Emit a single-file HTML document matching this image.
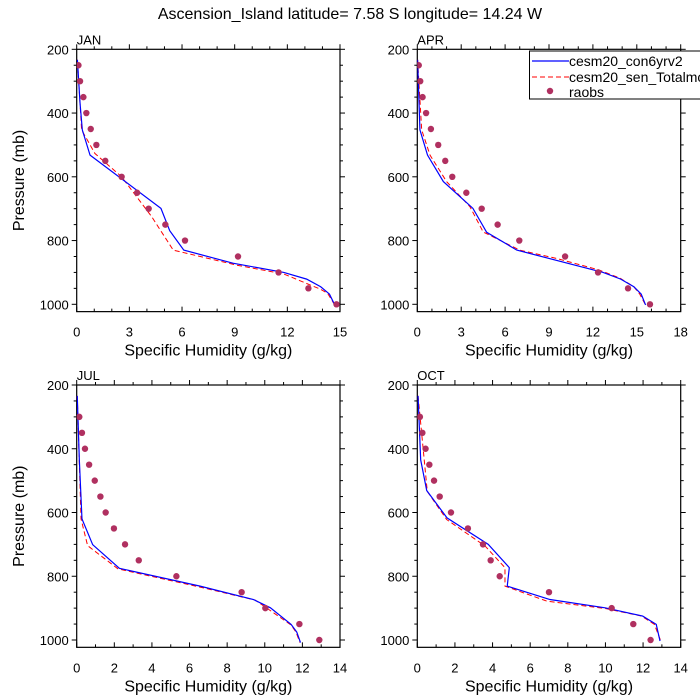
<!DOCTYPE html>
<html><head><meta charset="utf-8"><style>
body{margin:0;background:#fff;}
svg{display:block;font-family:"Liberation Sans",sans-serif;}
</style></head><body>
<svg id="chart" width="700" height="700" viewBox="0 0 700 700" xmlns="http://www.w3.org/2000/svg">
<rect width="700" height="700" fill="#fff"/>
<text x="350" y="19" text-anchor="middle" font-size="16">Ascension_Island  latitude= 7.58 S longitude= 14.24 W</text>
</svg>
<script>
const raobsLevels=[250,300,350,400,450,500,550,600,650,700,750,800,850,900,950,1000];
const janObs=[0.1,0.19,0.38,0.55,0.8,1.12,1.63,2.56,3.44,4.1,5.05,6.17,9.19,11.5,13.2,14.8];
const aprObs=[0.1,0.2,0.36,0.6,0.93,1.43,1.91,2.39,3.35,4.4,5.49,6.97,10.1,12.35,14.4,15.9];
const julObs=[null,0.14,0.28,0.44,0.66,0.96,1.26,1.54,1.98,2.57,3.3,5.3,8.77,10.03,11.84,12.9];
const octObs=[null,0.14,0.27,0.44,0.64,0.89,1.19,1.79,2.69,3.49,3.9,4.38,7.0,10.33,11.48,12.4];

const janConP=[233,369,453,532,699,769,830,871,900,921,945,968,1002];
const janConQ=[0.04,0.19,0.32,0.76,4.8,5.3,6.1,8.9,11.8,13.1,13.9,14.4,14.7];
const janSenP=[233,453,527,600,725,830,877,905,953,966,1002];
const janSenQ=[0.04,0.28,1.04,2.56,4.27,5.5,9.1,11.8,13.9,14.3,14.7];

const aprConP=[233,453,532,615,699,774,830,900,921,945,968,1002];
const aprConQ=[0.02,0.18,0.7,1.78,3.8,4.74,6.8,12.7,13.9,14.8,15.3,15.6];
const aprSenP=[233,453,532,615,694,773,830,856,892,918,945,968,1002];
const aprSenQ=[0.02,0.3,0.87,2.0,3.6,4.5,7.0,9.5,12.4,13.85,14.8,15.2,15.6];

const julConP=[234,435,620,701,775,831,873,899,951,975,1008];
const julConQ=[0.03,0.14,0.28,0.85,2.27,6.56,9.4,10.3,11.4,11.7,11.9];
const julSenP=[234,620,704,777,834,875,953,975,1008];
const julSenQ=[0.03,0.23,0.58,2.2,6.56,9.5,11.4,11.66,11.87];

const octConP=[234,435,531,617,700,773,831,873,899,925,951,1003];
const octConQ=[0.04,0.18,0.5,1.58,3.77,4.89,4.78,7.05,9.98,11.98,12.7,12.9];
const octSenP=[234,534,622,705,773,831,878,902,925,951,1003];
const octSenQ=[0.04,0.53,1.56,3.6,4.66,4.66,6.88,10.07,11.93,12.6,12.94];

const yTicks=[200,400,600,800,1000];
const NS="http://www.w3.org/2000/svg";
const svg=document.getElementById('chart');
function mk(tag,attrs,parent){const e=document.createElementNS(NS,tag);for(const k in attrs)e.setAttribute(k,attrs[k]);(parent||svg).appendChild(e);return e;}

const panels=[
 {name:'jan',label:'JAN',x0:76.7,x1:340,y0:49.3,xmax:15,xstep:3,minor:1,obs:janObs,cp:janConP,cq:janConQ,sp:janSenP,sq:janSenQ,ytitle:true},
 {name:'apr',label:'APR',x0:417.3,x1:680.7,y0:49.3,xmax:18,xstep:3,minor:1,obs:aprObs,cp:aprConP,cq:aprConQ,sp:aprSenP,sq:aprSenQ,ytitle:false},
 {name:'jul',label:'JUL',x0:76.7,x1:340,y0:385,xmax:14,xstep:2,minor:1,obs:julObs,cp:julConP,cq:julConQ,sp:julSenP,sq:julSenQ,ytitle:true},
 {name:'oct',label:'OCT',x0:417.3,x1:680.7,y0:385,xmax:14,xstep:2,minor:1,obs:octObs,cp:octConP,cq:octConQ,sp:octSenP,sq:octSenQ,ytitle:false}
];
const PPX=255/800, PMAX=1023;
panels.forEach(p=>{
 const g=mk('g',{});
 
 
 const xs=v=>p.x0+(v/p.xmax)*(p.x1-p.x0);
 const ys=v=>p.y0+(v-200)*PPX;
 const yb=ys(PMAX);
 const clipId='clip-'+p.name;
 const cp=mk('clipPath',{id:clipId},g);
 mk('rect',{x:p.x0,y:p.y0,width:p.x1-p.x0,height:yb-p.y0},cp);
 const frame=mk('rect',{x:p.x0,y:p.y0,width:p.x1-p.x0,height:yb-p.y0,fill:'none',stroke:'#000','stroke-width':1.2},g);
 
 
 for(let v=0;v<=p.xmax+1e-9;v+=p.minor){
  const major=Math.abs(v/p.xstep-Math.round(v/p.xstep))<1e-6;
  const L=major?5:3;const x=xs(v);
  mk('line',{x1:x,x2:x,y1:yb,y2:yb-L,stroke:'#000','stroke-width':1},g);
  mk('line',{x1:x,x2:x,y1:p.y0,y2:p.y0-L,stroke:'#000','stroke-width':1},g);
  if(major){const t=mk('text',{x:x,y:yb+25,'text-anchor':'middle','font-size':13},g);t.textContent=String(v);
   
   }
 }
 for(let v=200;v<=PMAX;v+=50){
  const major=v%200===0;const L=major?5:3;const y=ys(v);
  mk('line',{x1:p.x0,x2:p.x0-L,y1:y,y2:y,stroke:'#000','stroke-width':1},g);
  mk('line',{x1:p.x1,x2:p.x1+L,y1:y,y2:y,stroke:'#000','stroke-width':1},g);
 }
 yTicks.forEach(v=>{const t=mk('text',{x:p.x0-8,y:ys(v)+5,'text-anchor':'end','font-size':13},g);t.textContent=v;
  
  });
 const lab=mk('text',{x:p.x0,y:p.y0-5,'font-size':13},g);lab.textContent=p.label;
 
 
 const xt=mk('text',{x:(p.x0+p.x1)/2,y:yb+44,'text-anchor':'middle','font-size':16},g);xt.textContent='Specific Humidity (g/kg)';
 
 
 if(p.ytitle){const cy=(p.y0+yb)/2;const yt=mk('text',{x:24,y:cy,'text-anchor':'middle','font-size':16,transform:`rotate(-90 24 ${cy})`},g);yt.textContent='Pressure (mb)';
  
  }
 const data=mk('g',{'clip-path':`url(#${clipId})`},g);
 const sen=mk('polyline',{points:p.sp.map((v,i)=>xs(p.sq[i])+','+ys(v)).join(' '),fill:'none',stroke:'#ff0000','stroke-width':1,'stroke-dasharray':'5,3'},data);
 
 
 const con=mk('polyline',{points:p.cp.map((v,i)=>xs(p.cq[i])+','+ys(v)).join(' '),fill:'none',stroke:'#0000ff','stroke-width':1.2},data);
 
 
 raobsLevels.forEach((lv,i)=>{const q=p.obs[i];if(q===null)return;
  const c=mk('circle',{cx:xs(q),cy:ys(lv),r:3.2,fill:'#b03060'},data);
  
  });
});
const lg=mk('g',{});


mk('rect',{x:529.5,y:51,width:180,height:48,fill:'#fff',stroke:'#000','stroke-width':1},lg);
mk('line',{x1:532,x2:569,y1:61,y2:61,stroke:'#0000ff','stroke-width':1.2},lg);
mk('line',{x1:532,x2:569,y1:77,y2:77,stroke:'#ff0000','stroke-width':1,'stroke-dasharray':'5,3'},lg);
mk('circle',{cx:550,cy:91,r:3.2,fill:'#b03060'},lg);
[['cesm20_con6yrv2',66],['cesm20_sen_Totalmo',82],['raobs',97]].forEach(([s,y])=>{const t=mk('text',{x:569,y:y,'font-size':14},lg);t.textContent=s;
 
 });
</script>
</body></html>
